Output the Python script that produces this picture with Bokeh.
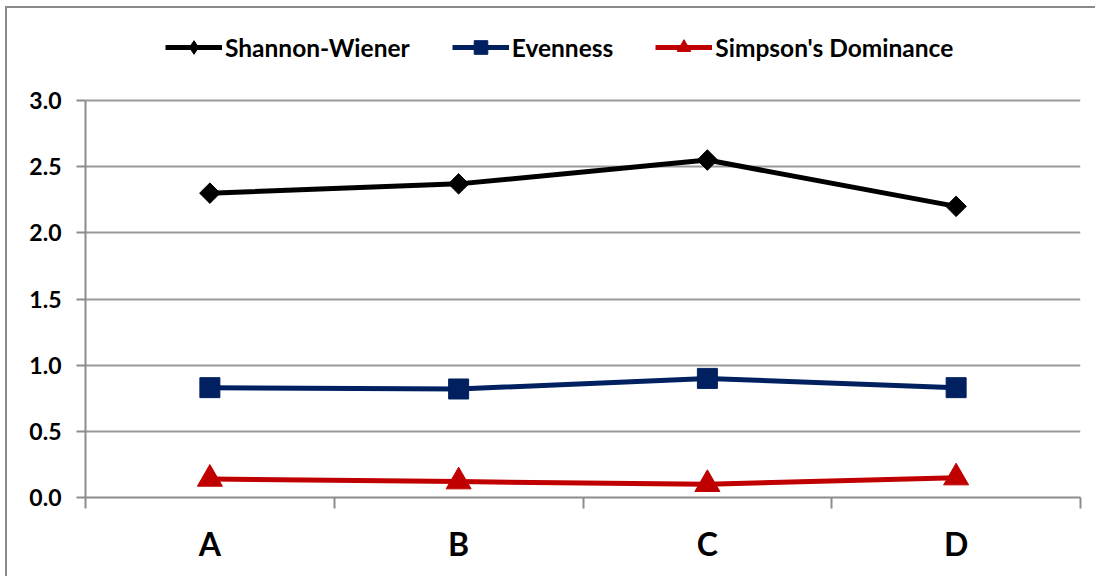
import math

from bokeh.plotting import figure
from bokeh.models import Range1d, FixedTicker, Legend, LegendItem, PrintfTickFormatter
from bokeh.embed import file_html
from bokeh.resources import INLINE

# Diversity indices per sampling site
sites = ["A", "B", "C", "D"]
shannon = [2.30, 2.37, 2.55, 2.20]
evenness = [0.83, 0.82, 0.90, 0.83]
simpson = [0.14, 0.12, 0.10, 0.15]
y_ticks = [0.0, 0.5, 1.0, 1.5, 2.0, 2.5, 3.0]

FONT = "Lato"
GRAY = "#8c8c8c"

# pixel layout of the canvas
CANVAS_W, CANVAS_H = 1090, 570
BORDER_L, BORDER_R, BORDER_B = 78, 17, 81
AXIS_TOP_PX = 92  # distance from the canvas top to the top tick of the value axis

# the frame reaches the canvas top so the legend can sit above the value axis;
# stretch the range so that the top tick still lands AXIS_TOP_PX below the top
frame_h = CANVAS_H - BORDER_B
y_end = y_ticks[-1] * frame_h / (frame_h - AXIS_TOP_PX)

# each site sits in the middle of its own unit-wide slot
xs = [i + 0.5 for i in range(len(sites))]

p = figure(
    width=CANVAS_W, height=CANVAS_H,
    output_backend="svg", toolbar_location=None,
    x_range=Range1d(0, len(sites)), y_range=Range1d(0, y_end),
    min_border_left=BORDER_L, min_border_right=BORDER_R,
    min_border_top=0, min_border_bottom=BORDER_B,
)
p.styles = {
    "margin-left": "5px", "margin-top": "6px",
    "border-left": "2px solid #8a8a8a", "border-top": "2px solid #8a8a8a",
}
p.outline_line_color = None
p.background_fill_color = "white"
p.border_fill_color = "white"

# grid
p.xgrid.visible = False
p.ygrid.grid_line_color = "#9a9a9a"
p.ygrid.grid_line_width = 2

# y axis
p.yaxis.ticker = FixedTicker(ticks=y_ticks, minor_ticks=[])
p.yaxis.bounds = (y_ticks[0], y_ticks[-1])
p.yaxis.formatter = PrintfTickFormatter(format="%.1f")
p.yaxis.axis_line_color = GRAY
p.yaxis.axis_line_width = 2
p.yaxis.major_tick_line_color = GRAY
p.yaxis.major_tick_line_width = 2
p.yaxis.major_tick_out = 9
p.yaxis.major_tick_in = 0
p.yaxis.major_label_standoff = 15
p.yaxis.major_label_text_font = FONT
p.yaxis.major_label_text_font_style = "bold"
p.yaxis.major_label_text_font_size = "23px"
p.yaxis.major_label_text_color = "black"

# x axis: labels in the slot centres, tick marks on the slot boundaries
p.xaxis.ticker = FixedTicker(ticks=xs, minor_ticks=list(range(len(sites) + 1)))
p.xaxis.major_label_overrides = {x: s for x, s in zip(xs, sites)}
p.xaxis.axis_line_color = GRAY
p.xaxis.axis_line_width = 2
p.xaxis.major_tick_line_color = None
p.xaxis.major_tick_out = 0
p.xaxis.major_tick_in = 0
p.xaxis.minor_tick_line_color = GRAY
p.xaxis.minor_tick_line_width = 2
p.xaxis.minor_tick_out = 11
p.xaxis.minor_tick_in = 0
p.xaxis.major_label_standoff = 15
p.xaxis.major_label_text_font = FONT
p.xaxis.major_label_text_font_style = "bold"
p.xaxis.major_label_text_font_size = "32px"
p.xaxis.major_label_text_color = "black"

# name, values, colour, marker, size, rotation, legend marker
series = [
    ("Shannon-Wiener", shannon, "#000000", "square", 14.5, math.pi / 4, "diamond"),
    ("Evenness", evenness, "#002060", "square", 20, 0.0, "square"),
    ("Simpson's Dominance", simpson, "#C00000", "triangle", 25, 0.0, "triangle"),
]

items = []
for name, vals, color, marker, size, angle, key_marker in series:
    ln = p.line(xs, vals, line_color=color, line_width=5)
    key = None
    if key_marker != marker:
        # narrow diamond hidden inside the rotated square; it supplies the
        # legend key, since legend keys ignore marker rotation
        key = p.scatter(xs, vals, marker=key_marker, size=size * 1.3,
                        fill_color=color, line_color=color)
    sc = p.scatter(xs, vals, marker=marker, size=size, angle=angle,
                   fill_color=color, line_color=color)
    items.append(LegendItem(label=name, renderers=[ln, key or sc]))

legend = Legend(
    items=items, orientation="horizontal", location=(80, 433),
    glyph_width=57, glyph_height=34, label_standoff=3, spacing=42,
    padding=0, margin=0, border_line_color=None, background_fill_alpha=0,
    label_text_font=FONT, label_text_font_style="bold",
    label_text_font_size="24.5px", label_text_color="black",
)
p.add_layout(legend, "center")

open("out.html", "w").write(file_html(p, INLINE))
